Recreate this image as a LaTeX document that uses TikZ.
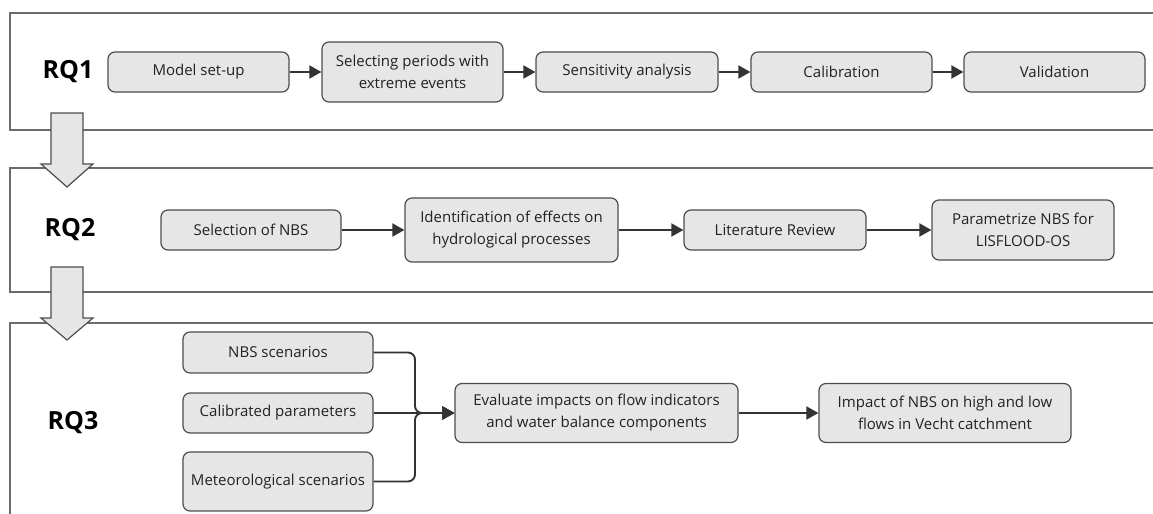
\documentclass[tikz,border=0pt]{standalone}
\usepackage{fontspec}
\setmainfont{Open Sans}
\usetikzlibrary{arrows.meta}
\definecolor{boxfill}{HTML}{E6E6E6}
\definecolor{boxline}{HTML}{4D4D4D}
\definecolor{conncol}{HTML}{333333}
\definecolor{bandline}{HTML}{6B6B6B}
\definecolor{txt}{HTML}{222222}
\begin{document}
\begin{tikzpicture}[x=1bp,y=-1bp,
  box/.style={draw=boxline, fill=boxfill, line width=1.2bp, rounded corners=7bp,
    align=center, text=txt, font=\fontsize{15bp}{22bp}\selectfont, inner sep=0pt},
  conn/.style={draw=conncol, line width=1.9bp, -{Triangle[length=12bp,width=13bp]}},
  rq/.style={font=\fontsize{25bp}{30bp}\selectfont\bfseries, text=black, inner sep=0pt},
  band/.style={draw=bandline, line width=1.4bp},
  bigarrow/.style={draw=boxline, fill=boxfill, line width=1.2bp}]
\useasboundingbox (0,0) rectangle (1153,514);
\begin{scope}
\clip (0,0) rectangle (1153,514);
% bands
\draw[band] (10,13) rectangle (1180,130);
\draw[band] (10,168) rectangle (1180,292);
\draw[band] (10,323) rectangle (1180,540);

% RQ labels
\node[rq] (rq1) at (68,72) {RQ1};
\node[rq] (rq2) at (70,230) {RQ2};
\node[rq] (rq3) at (73,423) {RQ3};

% RQ1 row
\node[box, minimum width=181bp, minimum height=40bp] (m1) at (198.5,72) {Model set-up};
\node[box, minimum width=181bp, minimum height=60bp] (m2) at (412.5,72) {Selecting periods with\\extreme events};
\node[box, minimum width=182bp, minimum height=40bp] (m3) at (627,72) {Sensitivity analysis};
\node[box, minimum width=181bp, minimum height=40bp] (m4) at (841.5,72) {Calibration};
\node[box, minimum width=181bp, minimum height=40bp] (m5) at (1054.5,72) {Validation};
\draw[conn] (m1) -- (m2);
\draw[conn] (m2) -- (m3);
\draw[conn] (m3) -- (m4);
\draw[conn] (m4) -- (m5);

% RQ2 row
\node[box, minimum width=180bp, minimum height=40bp] (n1) at (251,230) {Selection of NBS};
\node[box, minimum width=213bp, minimum height=64bp] (n2) at (511.5,230) {Identification of effects on\\hydrological processes};
\node[box, minimum width=182bp, minimum height=40bp] (n3) at (775,230) {Literature Review};
\node[box, minimum width=182bp, minimum height=60bp] (n4) at (1023,230) {Parametrize NBS for\\LISFLOOD-OS};
\draw[conn] (n1) -- (n2);
\draw[conn] (n2) -- (n3);
\draw[conn] (n3) -- (n4);

% RQ3
\node[box, minimum width=190bp, minimum height=41bp] (s1) at (278,352.5) {NBS scenarios};
\node[box, minimum width=190bp, minimum height=40bp] (s2) at (278,413) {Calibrated parameters};
\node[box, minimum width=190bp, minimum height=59bp] (s3) at (278,481.5) {Meteorological scenarios};
\node[box, minimum width=283bp, minimum height=59bp] (ev) at (596.5,413) {Evaluate impacts on flow indicators\\and water balance components};
\node[box, minimum width=252bp, minimum height=59bp] (im) at (945,413) {Impact of NBS on high and low\\flows in Vecht catchment};
\coordinate (j) at (415,413);
\draw[conn, rounded corners=7bp] (s1.east) -| (j) -- (ev.west);
\draw[conn, rounded corners=7bp] (s3.east) -| (j) -- (ev.west);
\draw[conn] (s2.east) -- (ev.west);
\draw[conn] (ev) -- (im);

% big arrows between bands
\draw[bigarrow] (51,113) -- (83,113) -- (83,164) -- (93,164) -- (67,187) -- (41,164) -- (51,164) -- cycle;
\draw[bigarrow] (51,267) -- (83,267) -- (83,318) -- (93,318) -- (67,340) -- (41,318) -- (51,318) -- cycle;
\end{scope}
\end{tikzpicture}
\end{document}
